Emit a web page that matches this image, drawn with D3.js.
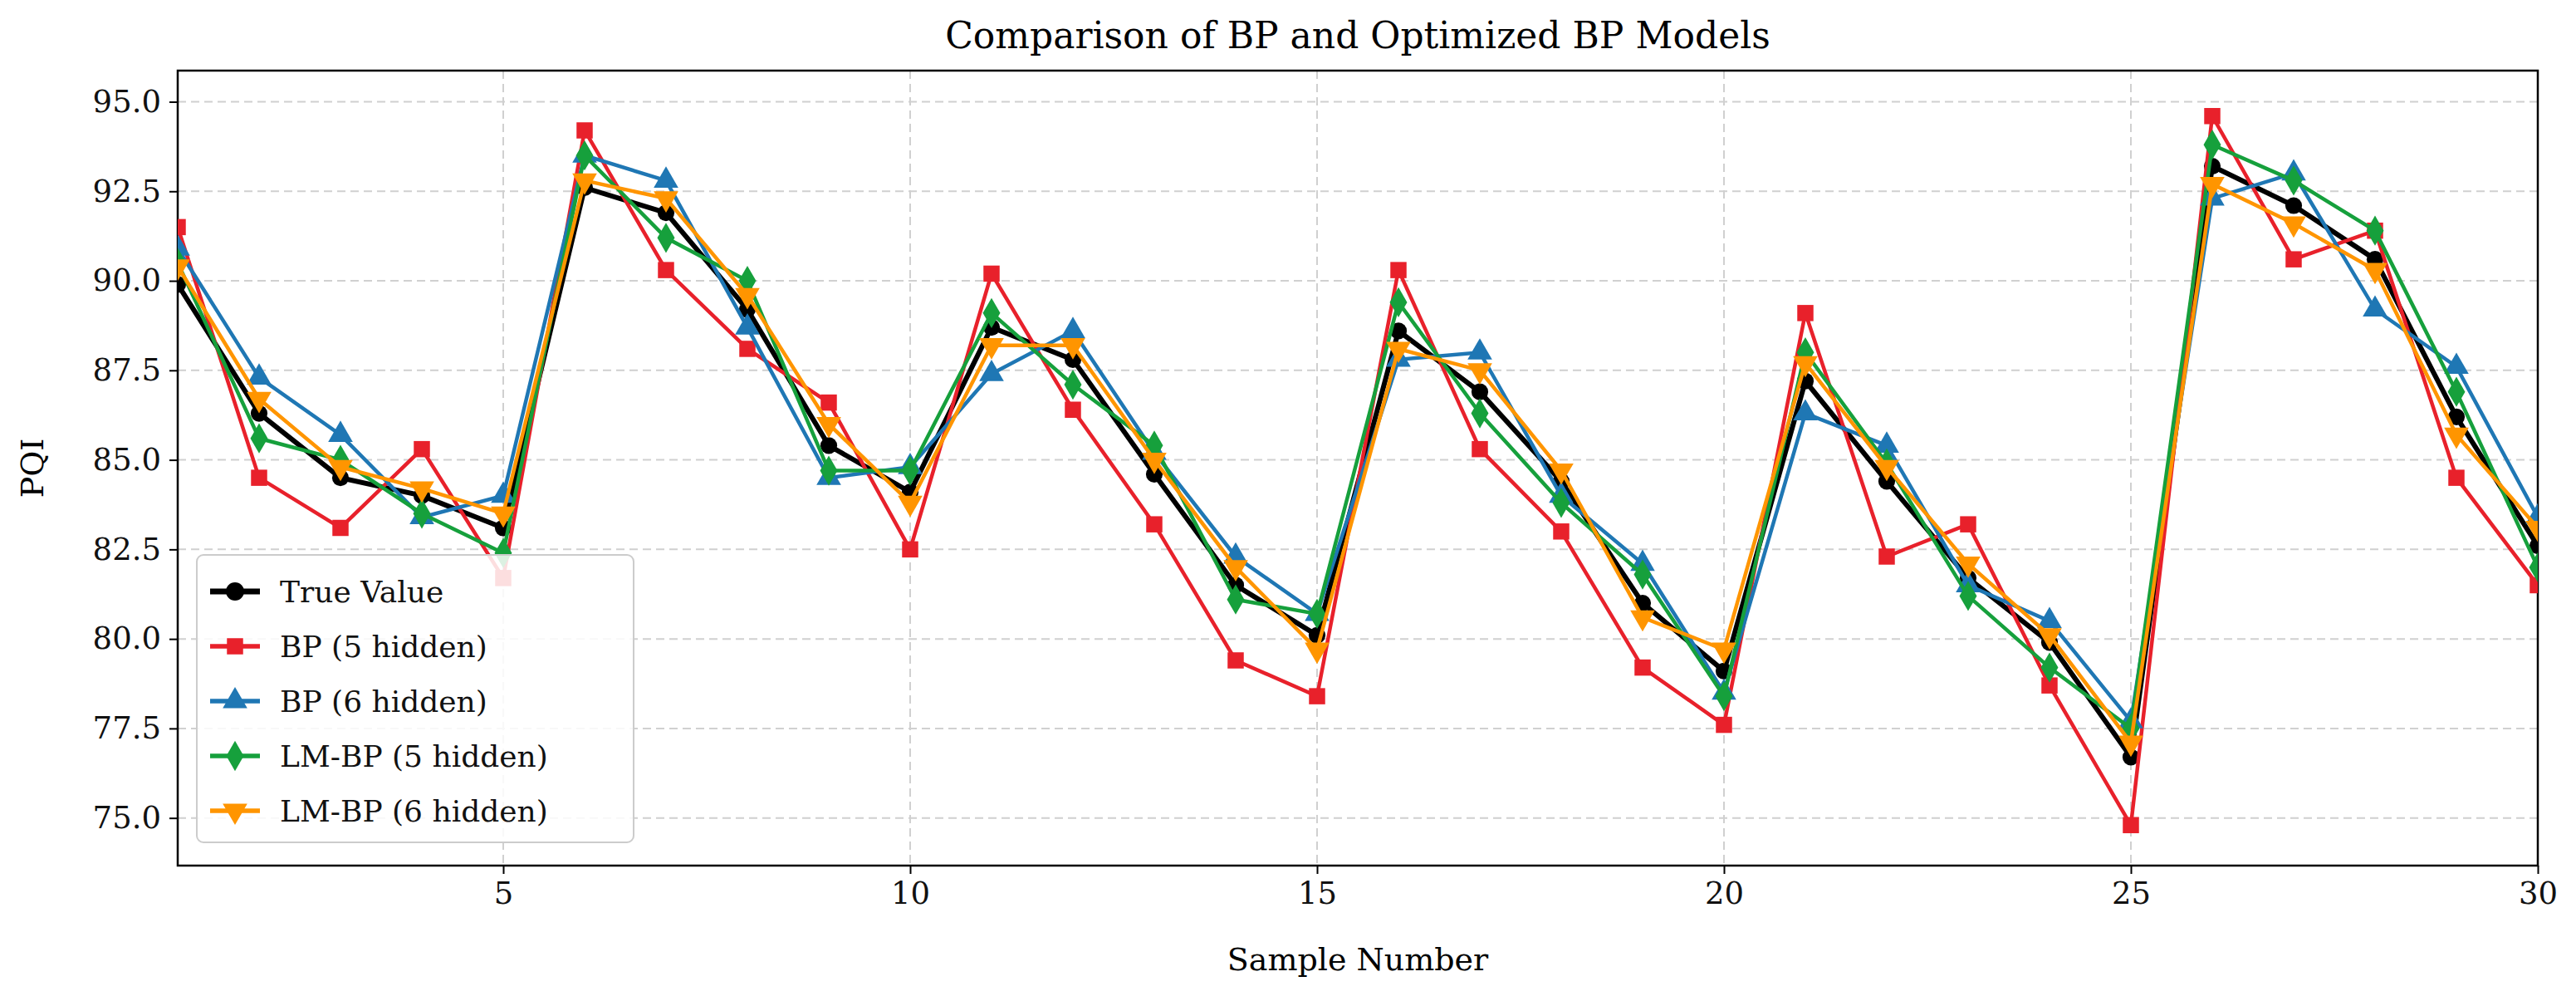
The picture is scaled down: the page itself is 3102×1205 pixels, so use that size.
<!DOCTYPE html>
<html><head><meta charset="utf-8">
<script src="https://cdn.jsdelivr.net/npm/d3@7"></script>
<style>body{margin:0;background:#fff}text{font-family:"DejaVu Serif",serif}</style>
</head><body><svg id="c" width="3102" height="1205"></svg>
<script>
var samples = d3.range(1, 31)
var trueValue = [89.9,86.3,84.5,84.0,83.1,92.6,91.9,89.2,85.4,84.1,88.7,87.8,84.6,81.5,80.1,88.6,86.9,84.4,81.0,79.1,87.2,84.4,81.7,79.9,76.7,93.2,92.1,90.6,86.2,82.6]
var bp5 = [91.5,84.5,83.1,85.3,81.7,94.2,90.3,88.1,86.6,82.5,90.2,86.4,83.2,79.4,78.4,90.3,85.3,83.0,79.2,77.6,89.1,82.3,83.2,78.7,74.8,94.6,90.6,91.4,84.5,81.5]
var bp6 = [90.9,87.3,85.7,83.4,84.0,93.5,92.8,88.7,84.5,84.8,87.4,88.6,85.2,82.3,80.7,87.8,88.0,84.0,82.1,78.5,86.3,85.4,81.5,80.5,77.7,92.3,93.0,89.2,87.6,83.4]
var lm5 = [90.5,85.6,85.0,83.5,82.4,93.5,91.2,90.0,84.7,84.7,89.1,87.1,85.4,81.1,80.7,89.4,86.3,83.8,81.8,78.4,88.0,84.9,81.2,79.2,77.5,93.8,92.8,91.4,86.9,82.0]
var lm6 = [90.4,86.7,84.8,84.2,83.5,92.8,92.3,89.6,86.0,83.8,88.2,88.2,85.0,82.0,79.7,88.1,87.5,84.7,80.6,79.7,87.7,84.8,82.1,80.1,77.1,92.7,91.6,90.3,85.7,83.1]
var xTicks = [5,10,15,20,25,30]
var yTicks = [75,77.5,80,82.5,85,87.5,90,92.5,95]

var series = [
  {name:"True Value", values:trueValue, color:"#000000", symbol:d3.symbolCircle, w:6},
  {name:"BP (5 hidden)", values:bp5, color:"#e8212b", symbol:d3.symbolSquare, w:4.5},
  {name:"BP (6 hidden)", values:bp6, color:"#1f77b4", symbol:d3.symbolTriangle, w:4.5},
  {name:"LM-BP (5 hidden)", values:lm5, color:"#16a03c", symbol:d3.symbolDiamond, w:4.5},
  {name:"LM-BP (6 hidden)", values:lm6, color:"#ff9500", symbol:"tdown", w:4.5}
]

var svg = d3.select("#c")
var m = {l:214, r:3056, t:85, b:1042}
var x = d3.scaleLinear().domain([1,30]).range([m.l,m.r])
var y = d3.scaleLinear().domain([73.67,95.87]).range([m.b,m.t])

// grid
svg.append("g").selectAll("line").data(xTicks).enter().append("line")
  .attr("x1",d=>x(d)).attr("x2",d=>x(d)).attr("y1",m.t).attr("y2",m.b)
  .attr("stroke","#d0d0d0").attr("stroke-width",2).attr("stroke-dasharray","10,6")
svg.append("g").selectAll("line").data(yTicks).enter().append("line")
  .attr("y1",d=>y(d)).attr("y2",d=>y(d)).attr("x1",m.l).attr("x2",m.r)
  .attr("stroke","#d0d0d0").attr("stroke-width",2).attr("stroke-dasharray","10,6")

var xAxis = svg.append("g").attr("transform","translate(0,"+m.b+")")
  .call(d3.axisBottom(x).tickValues(xTicks).tickSize(10).tickPadding(10).tickFormat(d3.format("d")))
var yAxis = svg.append("g").attr("transform","translate("+m.l+",0)")
  .call(d3.axisLeft(y).tickValues(yTicks).tickSize(10).tickPadding(10).tickFormat(d3.format(".1f")))
;[xAxis,yAxis].forEach(function(a){
  a.selectAll("text").attr("font-size",37).attr("fill","#111").style("font-family","DejaVu Serif")
  a.selectAll("line").attr("stroke-width",2)
  a.select(".domain").remove()
})
svg.append("rect").attr("x",m.l).attr("y",m.t).attr("width",m.r-m.l).attr("height",m.b-m.t)
  .attr("fill","none").attr("stroke","#000").attr("stroke-width",2.5)

var line = d3.line().x((d,i)=>x(samples[i])).y(d=>y(d))
svg.append("clipPath").attr("id","clip").append("rect")
  .attr("x",m.l).attr("y",m.t).attr("width",m.r-m.l).attr("height",m.b-m.t)

function symPath(s, size){
  if (s==="tdown") return d3.symbol(d3.symbolTriangle,size)()
  return d3.symbol(s,size)()
}

var plot = svg.append("g").attr("clip-path","url(#clip)")
series.forEach(function(s){
  var g = plot.append("g")
  g.append("path").attr("d",line(s.values)).attr("fill","none").attr("stroke",s.color).attr("stroke-width",s.w)
  g.selectAll("path.m").data(s.values).enter().append("path").attr("class","m")
    .attr("d",symPath(s.symbol, s.symbol===d3.symbolCircle?320:380))
    .attr("transform",(d,i)=>"translate("+x(samples[i])+","+y(d)+")"+(s.symbol==="tdown"?" rotate(180)":""))
    .attr("fill",s.color)
})

// legend
var lg = svg.append("g").attr("transform","translate(237,668)")
lg.append("rect").attr("width",526).attr("height",346).attr("rx",8)
  .attr("fill","#fff").attr("fill-opacity",0.85).attr("stroke","#ccc").attr("stroke-width",2)
series.forEach(function(s,i){
  var yy = 44 + i*66
  lg.append("line").attr("x1",16).attr("x2",76).attr("y1",yy).attr("y2",yy).attr("stroke",s.color).attr("stroke-width",s.w+1)
  lg.append("path").attr("d",symPath(s.symbol,380))
    .attr("transform","translate(46,"+yy+")"+(s.symbol==="tdown"?" rotate(180)":"")).attr("fill",s.color)
  lg.append("text").attr("x",100).attr("y",yy+13).attr("font-size",36).attr("fill","#111").text(s.name)
})

svg.append("text").attr("x",(m.l+m.r)/2).attr("y",58).attr("text-anchor","middle").attr("font-size",44).text("Comparison of BP and Optimized BP Models")
svg.append("text").attr("x",(m.l+m.r)/2).attr("y",1168).attr("text-anchor","middle").attr("font-size",38).text("Sample Number")
svg.append("text").attr("transform","translate(52,"+((m.t+m.b)/2)+") rotate(-90)").attr("text-anchor","middle").attr("font-size",38).text("PQI")
</script></body></html>
